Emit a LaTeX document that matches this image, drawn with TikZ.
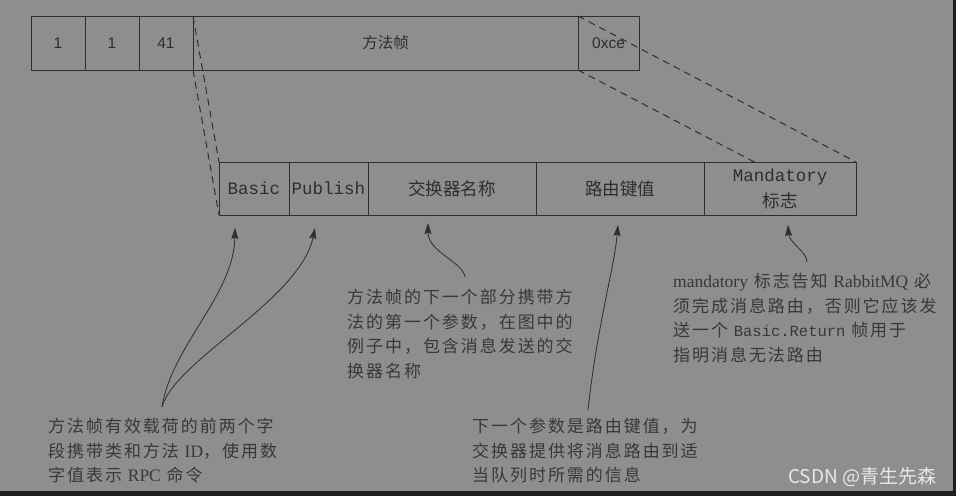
\documentclass[tikz,border=0pt]{standalone}
\usepackage{fontspec}
\setmainfont{Liberation Serif}
\setsansfont{Liberation Sans}
\setmonofont{Liberation Mono}
\newfontfamily\cjk{Noto Sans CJK SC}
\newfontfamily\cjknote[LetterSpace=11.5]{Noto Sans CJK SC}
\usetikzlibrary{arrows.meta,positioning,backgrounds}
\definecolor{Canvas}{HTML}{8E8E8E}
\definecolor{Frame}{HTML}{1E1E1E}
\definecolor{Ink}{HTML}{2E2E2E}
\definecolor{NoteInk}{HTML}{383838}
\definecolor{Mark}{HTML}{E8E8E8}
\newcommand{\notelatin}[1]{{\rmfamily\fontsize{17.5}{24.5}\selectfont #1}}
\newcommand{\notecode}[1]{{\ttfamily\fontsize{15.5}{24.5}\selectfont #1}}
\tikzset{
  field/.style={draw=Ink, line width=1pt, inner sep=0pt, outer sep=0pt,
    minimum height=54pt, text=Ink, font=\sffamily\fontsize{15.5}{18}\selectfont},
  detail/.style={field, minimum height=53pt, fill=Canvas, align=center,
    font=\ttfamily\fontsize{17.5}{26}\selectfont},
  cjkfield/.style={font=\cjk\fontsize{17.5}{26}\selectfont},
  zoomline/.style={draw=Ink, line width=1pt, dash pattern=on 7pt off 5pt},
  callout/.style={-{Stealth[length=11pt,width=7pt,inset=1.5pt]}, draw=Ink, line width=0.8pt},
  note/.style={align=left, inner sep=0pt, anchor=north west, text=NoteInk,
    font=\cjknote\fontsize{17}{24.5}\selectfont},
}

\begin{document}
\begin{tikzpicture}[x=1pt, y=-1pt]
  % Frame header on top, payload fields below.
  \node[field, minimum width=54pt] (typeField) at (58,43) {1};
  \node[field, minimum width=54pt, right=0pt of typeField] (channelField) {1};
  \node[field, minimum width=54pt, right=0pt of channelField] (sizeField) {41};
  \node[field, minimum width=385pt, right=0pt of sizeField, font=\cjk\fontsize{15.5}{18}\selectfont]
    (methodField) {方法帧};
  \node[field, minimum width=61pt, right=0pt of methodField] (endField) {0xce};

  \node[detail, minimum width=70pt] (basic) at (254,188.5) {Basic};
  \node[detail, minimum width=79pt, right=0pt of basic] (publish) {Publish};
  \node[detail, cjkfield, minimum width=168pt, right=0pt of publish] (exchange) {交换器名称};
  \node[detail, cjkfield, minimum width=168pt, right=0pt of exchange] (routingKey) {路由键值};
  \node[detail, minimum width=152pt, right=0pt of routingKey] (mandatory)
    {Mandatory\\{\cjk 标志}};

  % Explanations.
  \node[note] (exchNote) at (347,289)
    {方法帧的下一个部分携带方\\法的第一个参数，在图中的\\例子中，包含消息发送的交\\换器名称};
  \node[note] (flagNote) at (673,273)
    {\notelatin{mandatory} 标志告知 \notelatin{RabbitMQ} 必\\须完成消息路由，否则它应该发\\送一个 \notecode{Basic.Return} 帧用于\\指明消息无法路由};
  \node[note] (idNote) at (48,418)
    {方法帧有效载荷的前两个字\\段携带类和方法 \notelatin{ID}，使用数\\字值表示 \notelatin{RPC} 命令};
  \node[note] (keyNote) at (472,418)
    {下一个参数是路由键值，为\\交换器提供将消息路由到适\\当队列时所需的信息};
  \node[anchor=west, inner sep=0pt, text=Mark, font=\cjk\fontsize{19}{22}\selectfont]
    (credit) at (788,477) {CSDN @青生先森};

  \coordinate (idStem) at (162,407);
  \coordinate (exchStem) at (465,277);
  \coordinate (keyStem) at (588,410);
  \coordinate (flagStem) at (807,262);

  % Curved callouts up to the fields.
  \draw[callout] (idStem) .. controls +(10,-62) and +(-1,67) .. ([xshift=-19pt, yshift=-13pt]basic.south);
  \draw[callout] (idStem) .. controls +(13,-47) and +(-15,72) .. ([xshift=-13.5pt, yshift=-13pt]publish.south);
  \draw[callout] (exchStem) .. controls +(-2,-15) and +(0,29) .. ([xshift=-24pt, yshift=-8pt]exchange.south);
  \draw[callout] (keyStem) .. controls +(10,-90) and +(-4,45) .. ([xshift=-2pt, yshift=-10pt]routingKey.south);
  \draw[callout] (flagStem) .. controls +(0,-10) and +(1,17) .. ([xshift=8pt, yshift=-10pt]mandatory.south);

  \begin{scope}[on background layer]
    \fill[Frame] (0,0) rectangle (956,496);
    \fill[Canvas] (0,0) rectangle (953,491);
    % Zoom guides, partly hidden behind the payload fields.
    \draw[zoomline] (methodField.north west) -- (basic.north west);
    \draw[zoomline] (methodField.south west) -- (basic.south west);
    \draw[zoomline] (endField.north west) -- (mandatory.north east);
    \draw[zoomline] (endField.south west) -- (mandatory.south east);
  \end{scope}
\end{tikzpicture}
\end{document}
